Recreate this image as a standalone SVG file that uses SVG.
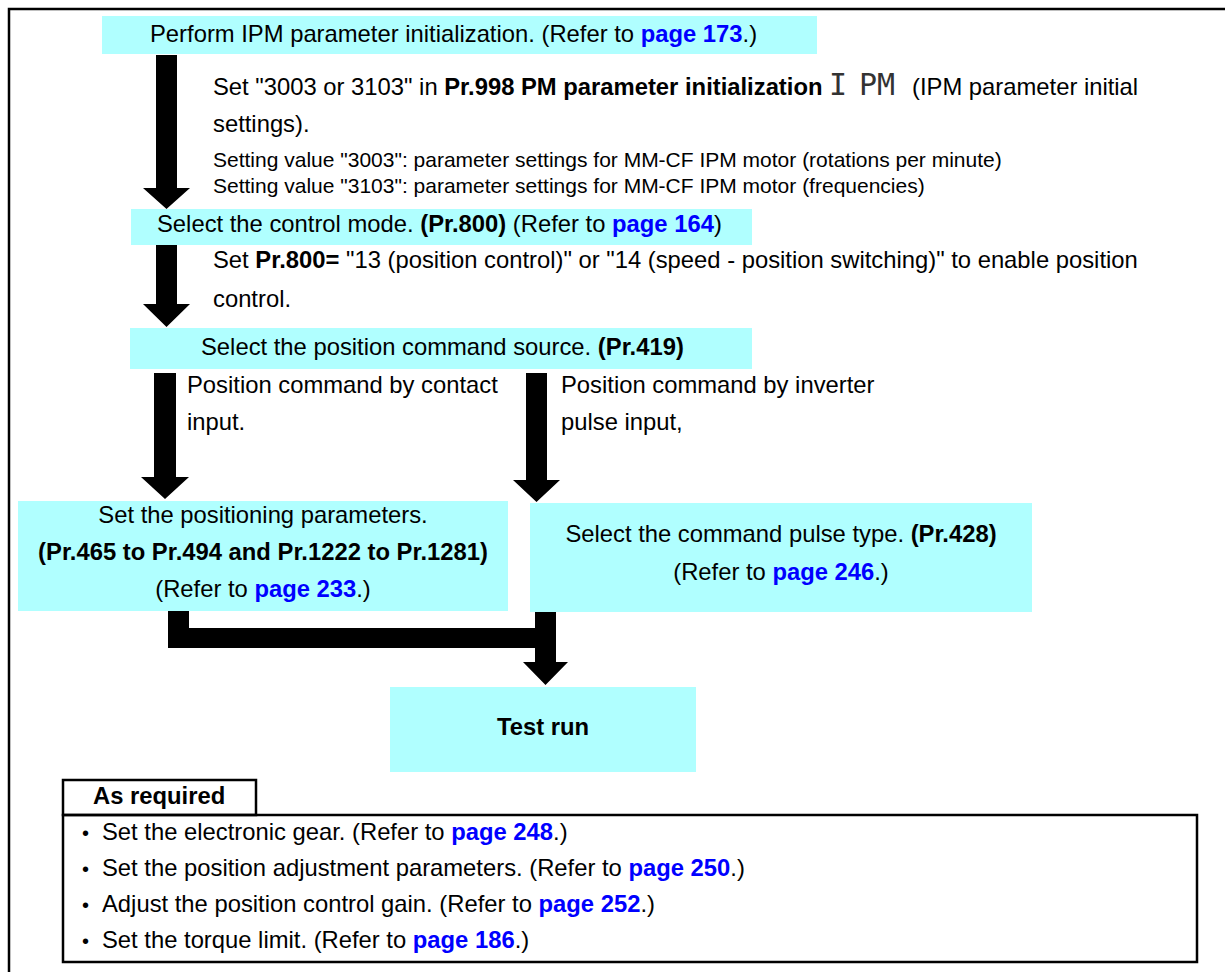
<svg xmlns="http://www.w3.org/2000/svg" width="1225" height="972" viewBox="0 0 1225 972">
<style>
.box{fill:#b0ffff}
.t{font-family:"Liberation Sans",Arial,sans-serif;font-size:23.8px;fill:#000}
.s{font-size:21px}
.b{font-weight:bold}
.lnk{font-weight:bold;fill:#0000ff}
.c{text-anchor:middle}
.bul{font-size:20px}
.arr{fill:#000}
.frame{fill:none;stroke:#000;stroke-width:2.5}
.seg{font-family:"DejaVu Sans Mono","Liberation Mono",monospace;font-size:30px;font-weight:200;fill:#333}
</style>
<rect width="1225" height="972" fill="#fff"/>
<path class="frame" d="M9,972 V9 H1225"/>

<g id="connectors">
  <polygon class="arr" points="156,55 177,55 177,188 190,188 166.5,209 143,188 156,188"/>
  <polygon class="arr" points="156,245 177,245 177,304 190,304 166.5,327 143,304 156,304"/>
  <polygon class="arr" points="154,373 176,373 176,477 189,477 165,499 141,477 154,477"/>
  <polygon class="arr" points="526,373 547,373 547,480 560,480 536.5,502 513,480 526,480"/>
  <polygon class="arr" points="168,611 189,611 189,628 535,628 535,612 556,612 556,662 568,662 545.5,685 523,662 535,662 535,648 168,648"/>
</g>

<g id="node-init">
  <rect class="box" x="102" y="16" width="715" height="38"/>
  <text class="t" x="150" y="42">Perform IPM parameter initialization. (Refer to <tspan class="lnk">page 173</tspan>.)</text>
</g>

<g id="note-init">
  <text class="t" x="213" y="95">Set "3003 or 3103" in <tspan class="b">Pr.998 PM parameter initialization</tspan></text>
  <text class="seg" x="829" y="95">I<tspan x="859">PM</tspan></text>
  <text class="t" x="912" y="95">(IPM parameter initial</text>
  <text class="t" x="213" y="132">settings).</text>
  <text class="t s" x="213" y="167">Setting value "3003": parameter settings for MM-CF IPM motor (rotations per minute)</text>
  <text class="t s" x="213" y="193">Setting value "3103": parameter settings for MM-CF IPM motor (frequencies)</text>
</g>

<g id="node-mode">
  <rect class="box" x="131" y="209" width="621" height="36"/>
  <text class="t" x="157" y="232">Select the control mode. <tspan class="b">(Pr.800)</tspan> (Refer to <tspan class="lnk">page 164</tspan>)</text>
</g>

<g id="note-mode">
  <text class="t" x="213" y="268">Set <tspan class="b">Pr.800=</tspan> "13 (position control)" or "14 (speed - position switching)" to enable position</text>
  <text class="t" x="213" y="307">control.</text>
</g>

<g id="node-source">
  <rect class="box" x="130" y="328" width="622" height="41"/>
  <text class="t" x="201" y="355">Select the position command source. <tspan class="b">(Pr.419)</tspan></text>
</g>

<g id="label-contact">
  <text class="t" x="187" y="393">Position command by contact</text>
  <text class="t" x="187" y="430">input.</text>
</g>

<g id="label-pulse">
  <text class="t" x="561" y="393">Position command by inverter</text>
  <text class="t" x="561" y="430">pulse input,</text>
</g>

<g id="node-positioning">
  <rect class="box" x="18" y="501" width="490" height="110"/>
  <text class="t c" x="263" y="523">Set the positioning parameters.</text>
  <text class="t c b" x="263" y="560">(Pr.465 to Pr.494 and Pr.1222 to Pr.1281)</text>
  <text class="t c" x="263" y="597">(Refer to <tspan class="lnk">page 233</tspan>.)</text>
</g>

<g id="node-pulse">
  <rect class="box" x="530" y="503" width="502" height="109"/>
  <text class="t c" x="781" y="542">Select the command pulse type. <tspan class="b">(Pr.428)</tspan></text>
  <text class="t c" x="781" y="580">(Refer to <tspan class="lnk">page 246</tspan>.)</text>
</g>

<g id="node-test">
  <rect class="box" x="390" y="687" width="306" height="85"/>
  <text class="t c b" x="543" y="735">Test run</text>
</g>

<g id="as-required">
  <rect class="frame" x="63" y="780" width="193" height="35" stroke-width="2"/>
  <text class="t b" x="93" y="804">As required</text>
  <rect class="frame" x="63" y="815" width="1134" height="147" stroke-width="2"/>
  <text class="t" y="840"><tspan class="bul" x="82">•</tspan><tspan x="102">Set the electronic gear. (Refer to </tspan><tspan class="lnk">page 248</tspan>.)</text>
  <text class="t" y="876"><tspan class="bul" x="82">•</tspan><tspan x="102">Set the position adjustment parameters. (Refer to </tspan><tspan class="lnk">page 250</tspan>.)</text>
  <text class="t" y="912"><tspan class="bul" x="82">•</tspan><tspan x="102">Adjust the position control gain. (Refer to </tspan><tspan class="lnk">page 252</tspan>.)</text>
  <text class="t" y="948"><tspan class="bul" x="82">•</tspan><tspan x="102">Set the torque limit. (Refer to </tspan><tspan class="lnk">page 186</tspan>.)</text>
</g>
</svg>
